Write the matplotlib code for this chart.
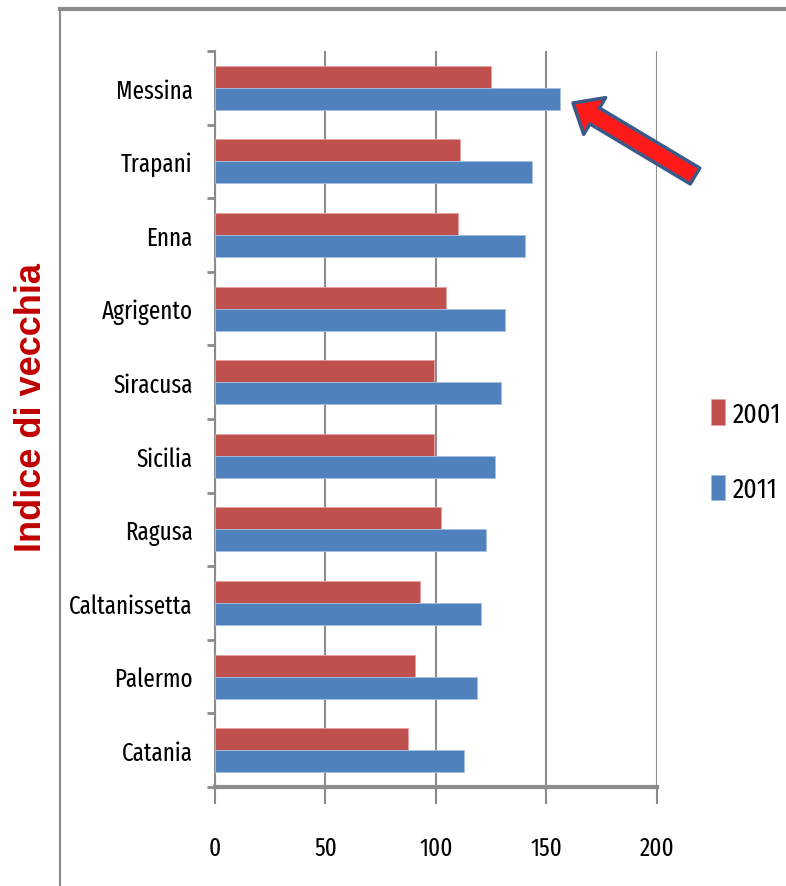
import numpy as np
import matplotlib.pyplot as plt
from matplotlib.patches import FancyArrowPatch
from matplotlib.lines import Line2D

# Indice di vecchiaia per provincia (top to bottom)
provinces = ['Messina', 'Trapani', 'Enna', 'Agrigento', 'Siracusa', 'Sicilia',
             'Ragusa', 'Caltanissetta', 'Palermo', 'Catania']
v2001 = [125, 110.9, 110, 104.6, 99.3, 99.3, 102.3, 92.9, 90.7, 87.5]
v2011 = [156, 143.6, 140.4, 131.2, 129.5, 126.5, 122.6, 120.2, 118.6, 112.5]
xticks = [0, 50, 100, 150, 200]

red = '#C0504D'
blue = '#4F81BD'
grey = '#8C8C8C'
font = ['Fira Sans Extra Condensed', 'Carlito', 'DejaVu Sans']

fig = plt.figure(figsize=(7.86, 8.87), dpi=100)
ax = fig.add_axes([215/786, 1-788/887, (657-215)/786, (788-52)/887])

y = np.arange(len(provinces))
h = 0.3
b1 = ax.barh(y - h/2, v2001, height=h, color=red, edgecolor='#E6A09E', linewidth=0.6, zorder=3)
b2 = ax.barh(y + h/2, v2011, height=h, color=blue, edgecolor='#A8C0E0', linewidth=0.6, zorder=3)

ax.set_xlim(0, 200)
ax.set_ylim(len(provinces) - 0.5, -0.5)
ax.set_xticks(xticks)
ax.set_xticklabels([str(t) for t in xticks], family=font, fontsize=18)
ax.set_yticks(y)
ax.set_yticklabels(provinces, family=font, fontsize=18)
ax.tick_params(axis='y', length=0, pad=16)
ax.tick_params(axis='x', length=12, width=1.5, color=grey, pad=23, direction='out')
# minor ticks on category boundaries
ax.set_yticks(np.arange(-0.5, len(provinces)), minor=True)
ax.tick_params(axis='y', which='minor', length=6, width=2, color=grey, direction='out')

ax.grid(axis='x', color=grey, linewidth=1.5, zorder=0)
for s in ['top', 'right']:
    ax.spines[s].set_visible(False)
ax.spines['left'].set_color(grey)
ax.spines['left'].set_linewidth(1.5)
ax.spines['bottom'].set_color(grey)
ax.spines['bottom'].set_linewidth(3)

fig.legend(handles=[b1, b2], labels=['2001', '2011'],
           loc='center left', bbox_to_anchor=(697/786, 1-452/887), bbox_transform=fig.transFigure,
           frameon=False, borderpad=0, prop={'family': font, 'size': 20},
           handlelength=0.5, handleheight=1.05, handletextpad=0.3, labelspacing=1.7)

# y-axis title
fig.text(32/786, 1-408/887, 'Indice di vecchia', rotation=90, color='#C00000',
         fontsize=26, fontweight='bold', family='Liberation Sans', ha='center', va='center')

# outer frame
fig.add_artist(Line2D([60/786, 1], [1-10/887, 1-10/887], color=grey, linewidth=3))
fig.add_artist(Line2D([60/786, 60/786], [0, 1-10/887], color=grey, linewidth=1.5))

# arrow pointing to Messina 2011
arrow = FancyArrowPatch((695/786, 1-177/887), (573/786, 1-104/887),
                        transform=fig.transFigure, shrinkA=0, shrinkB=0,
                        arrowstyle='simple,head_width=2.2,head_length=1.3,tail_width=0.95',
                        mutation_scale=14, facecolor='#FF1A1A', edgecolor='#3A5A8A',
                        linewidth=2.5, zorder=10)
fig.add_artist(arrow)

fig.savefig('out.png', dpi=100)
